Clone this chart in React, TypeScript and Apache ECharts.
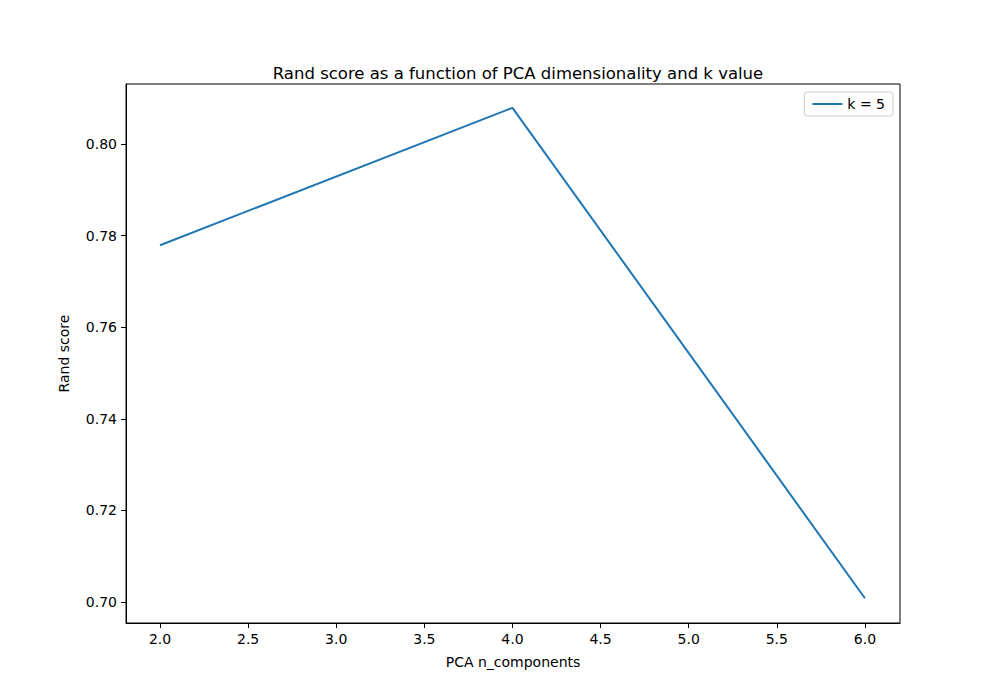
import * as echarts from "echarts";
import { useEffect, useRef } from "react";

const nComponents = [2, 4, 6];
const randScores = [0.7779, 0.8079, 0.7008];
const xTicks = [2.0, 2.5, 3.0, 3.5, 4.0, 4.5, 5.0, 5.5, 6.0];
const yTicks = [0.7, 0.72, 0.74, 0.76, 0.78, 0.8];

const FONT = "DejaVu Sans";

export default function App() {
  const box = useRef<HTMLDivElement>(null);

  useEffect(() => {
    document.body.style.margin = "0";
    if (!box.current) return;
    const c = echarts.init(box.current, undefined, { renderer: "svg" });
    const axisCommon = {
      axisLine: { show: true, lineStyle: { color: "#000", width: 1 } },
      axisTick: { show: true, length: 5, inside: false, lineStyle: { color: "#000" } },
      splitLine: { show: false },
      nameTextStyle: { color: "#000", fontSize: 14, fontFamily: FONT },
    };
    c.setOption({
      animation: false,
      textStyle: { fontFamily: FONT },
      title: {
        text: "Rand score as a function of PCA dimensionality and k value",
        left: 513,
        top: 60,
        textAlign: "center",
        textStyle: { fontSize: 16.5, fontWeight: "normal", color: "#000", fontFamily: FONT },
      },
      legend: {
        right: 107,
        top: 92,
        orient: "vertical",
        itemWidth: 30,
        itemHeight: 2,
        padding: [5, 8],
        borderColor: "#ccc",
        borderWidth: 1,
        borderRadius: 3,
        icon: "rect",
        textStyle: { fontSize: 14, color: "#000", fontFamily: FONT },
        data: ["k = 5"],
      },
      grid: { left: 126, right: 100, top: 84, bottom: 77 },
      xAxis: {
        ...axisCommon,
        type: "value",
        min: 1.807,
        max: 6.199,
        name: "PCA n_components",
        nameLocation: "middle",
        nameGap: 32,
        axisTick: { ...axisCommon.axisTick, customValues: xTicks },
        axisLabel: {
          customValues: xTicks,
          color: "#000",
          fontSize: 14,
          fontFamily: FONT,
          margin: 9,
          formatter: (v: number) => v.toFixed(1),
        },
      },
      yAxis: {
        ...axisCommon,
        type: "value",
        min: 0.6954,
        max: 0.8131,
        name: "Rand score",
        nameLocation: "middle",
        nameGap: 55,
        axisTick: { ...axisCommon.axisTick, customValues: yTicks },
        axisLabel: {
          customValues: yTicks,
          color: "#000",
          fontSize: 14,
          fontFamily: FONT,
          margin: 9,
          formatter: (v: number) => v.toFixed(2),
        },
      },
      series: [
        {
          name: "k = 5",
          type: "line",
          data: nComponents.map((x, i) => [x, randScores[i]]),
          showSymbol: false,
          symbol: "none",
          lineStyle: { color: "#1f77b4", width: 2 },
          itemStyle: { color: "#1f77b4" },
        },
      ],
    });
    // top/right frame lines of the matplotlib axes box
    c.setOption({
      graphic: [
        { type: "rect", shape: { x: 126, y: 84, width: 774, height: 539 }, style: { fill: "none", stroke: "#000", lineWidth: 1 }, silent: true },
      ],
    });
    return () => c.dispose();
  }, []);

  return <div ref={box} style={{ width: 1000, height: 700 }} />;
}
